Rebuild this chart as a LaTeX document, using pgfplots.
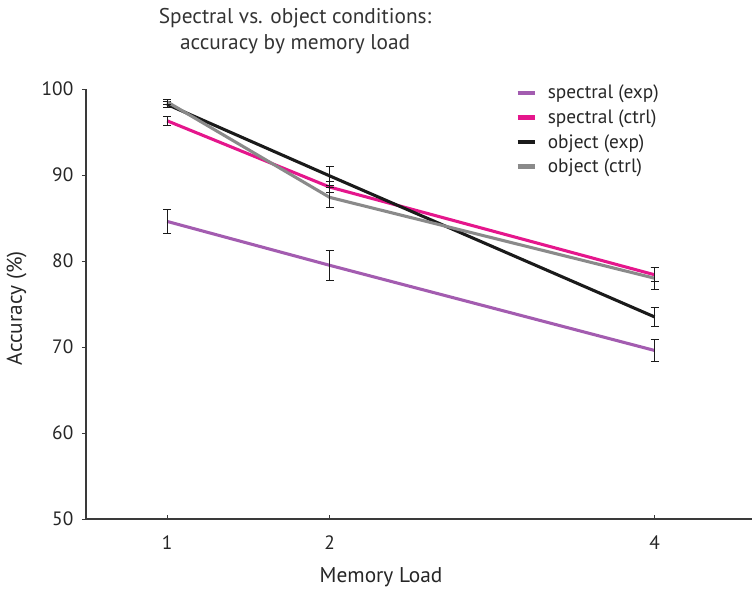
\documentclass[border=0pt]{standalone}
\usepackage{fontspec}
\setmainfont{PT Sans}
\usepackage{pgfplots}
\pgfplotsset{compat=1.18}
\definecolor{cpurple}{HTML}{A35CB0}
\definecolor{cpink}{HTML}{E5168C}
\definecolor{cblack}{HTML}{1A1A1A}
\definecolor{cgray}{HTML}{8A8A8A}
\definecolor{axc}{HTML}{3A3A3A}
\begin{document}
\begin{tikzpicture}
\begin{axis}[
  scale only axis,
  width=499.5pt, height=322.5pt,
  xmin=0.5, xmax=4.6, ymin=50, ymax=100,
  axis x line*=bottom, axis y line*=left,
  axis line style={axc, line width=0.9pt, -},
  xtick={1,2,4}, ytick={50,60,70,80,90,100},
  x tick style={axc, line width=0.5pt},
  y tick style={axc, line width=0.5pt},
  xtick align=inside, ytick align=outside,
  major tick length=3pt,
  /pgf/number format/assume math mode=true,
  tick label style={font=\fontsize{14.5}{16}\selectfont, text=black!85},
  xticklabel style={yshift=-9pt},
  yticklabel style={xshift=-3pt},
  xlabel={Memory Load},
  ylabel={Accuracy (\%)},
  label style={font=\fontsize{16}{18}\selectfont, text=black!85},
  xlabel style={at={(rel axis cs:0.443,0)}, anchor=north, yshift=-33pt},
  ylabel style={at={(rel axis cs:0,0.49)}, anchor=south, yshift=41pt},
  legend style={draw=none, fill=none, at={(rel axis cs:0.638,1.022)}, anchor=north west,
     font=\fontsize{14.5}{16}\selectfont, row sep=2.6pt, text=black!85,
     /tikz/every even column/.append style={column sep=0pt}},
  legend cell align=left,
  legend image code/.code={\draw[#1, line width=3.5pt] (0pt,0pt) -- (13pt,0pt);},
  error bars/error bar style={cblack, line width=0.7pt},
  error bars/error mark options={rotate=90, mark size=3pt, cblack, line width=0.7pt},
  clip=false,
]
\addplot[cpurple, line width=2.3pt, error bars/.cd, y dir=both, y explicit]
  coordinates {(1,84.6) +- (0,1.4) (2,79.5) +- (0,1.75) (4,69.6) +- (0,1.25)};
\addlegendentry{\hspace{6pt}spectral (exp)}
\addplot[cpink, line width=2.3pt, error bars/.cd, y dir=both, y explicit]
  coordinates {(1,96.3) +- (0,0.55) (2,88.6) +- (0,0.6) (4,78.4) +- (0,0.8)};
\addlegendentry{\hspace{6pt}spectral (ctrl)}
\addplot[cblack, line width=2.3pt, error bars/.cd, y dir=both, y explicit]
  coordinates {(1,98.2) +- (0,0.4) (2,89.9) +- (0,1.1) (4,73.5) +- (0,1.15)};
\addlegendentry{\hspace{6pt}object (exp)}
\addplot[cgray, line width=2.3pt, error bars/.cd, y dir=both, y explicit]
  coordinates {(1,98.5) +- (0,0.3) (2,87.4) +- (0,1.2) (4,78.0) +- (0,1.3)};
\addlegendentry{\hspace{6pt}object (ctrl)}
\node[align=center, font=\fontsize{16}{20}\selectfont, text=black!80, anchor=south]
  at (rel axis cs:0.314,1.07) {Spectral vs. object conditions:\\accuracy by memory load};
\end{axis}
\pgfresetboundingbox
\path (current axis.south west) ++(-64.5pt,-56.25pt) coordinate (bl);
\path (current axis.south west) ++(502.5pt,389.25pt) coordinate (tr);
\path (bl) rectangle (tr);
\end{tikzpicture}
\end{document}
